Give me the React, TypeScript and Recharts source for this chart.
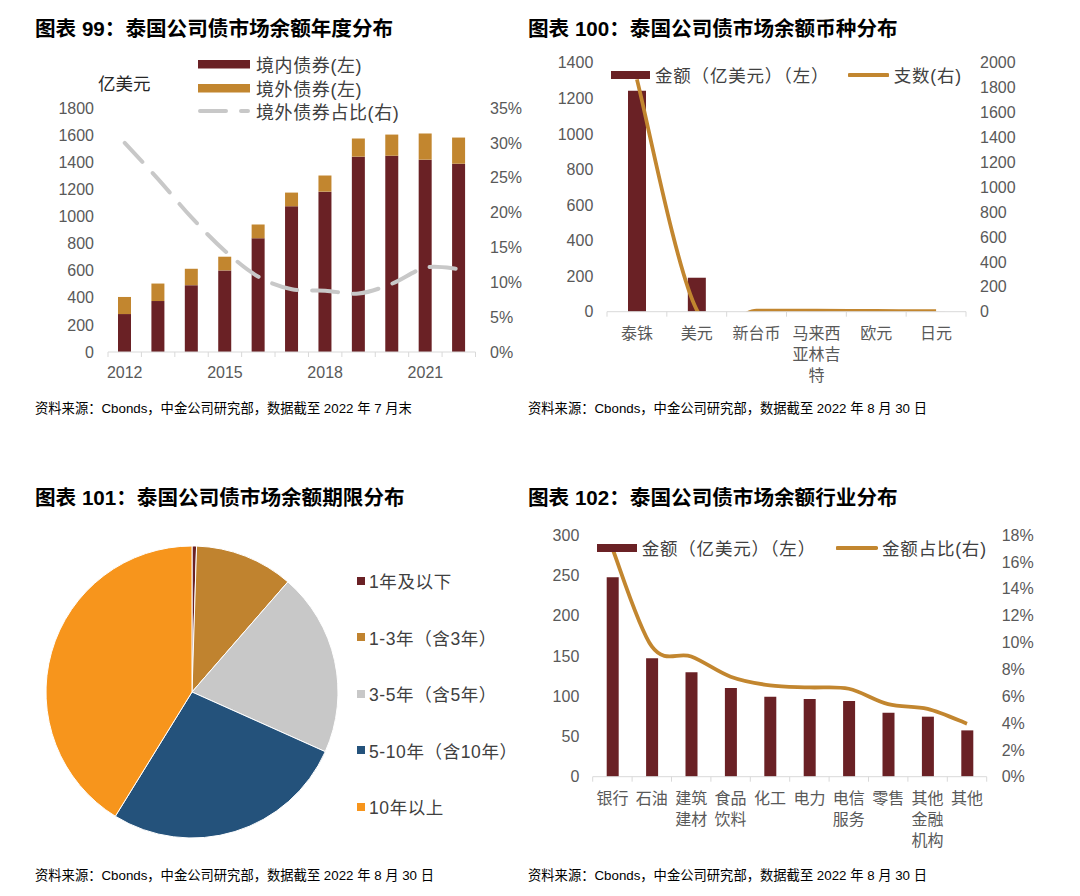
import React from 'react';
import { ComposedChart, Bar, Line, XAxis, YAxis, Legend, PieChart, Pie, Cell } from 'recharts';

const FONT = '"Liberation Sans", Arial, "Noto Sans CJK SC", sans-serif';
const TICK_COLOR = '#595959';
const TEXT_COLOR = '#404040';
const AXIS_COLOR = '#d9d9d9';
const MAROON = '#6a2125';
const BRONZE = '#c2862f';
const DASH_GREY = '#c8c8c8';

// 图表 99：年度分布（亿美元 / %）
const years = ['2012', '2013', '2014', '2015', '2016', '2017', '2018', '2019', '2020', '2021', '2022'];
const domesticBonds = [280, 376, 493, 602, 839, 1075, 1183, 1441, 1448, 1419, 1389];
const offshoreBonds = [126, 129, 121, 101, 102, 101, 119, 134, 156, 193, 193];
const offshoreShare = [30.0, 24.8, 19.3, 14.5, 10.8, 9.0, 8.8, 8.4, 9.8, 12.1, 11.9];
const amountTicks99 = [0, 200, 400, 600, 800, 1000, 1200, 1400, 1600, 1800];
const shareTicks99 = [0, 5, 10, 15, 20, 25, 30, 35];
const seriesNames99 = ['境内债券(左)', '境外债券(左)', '境外债券占比(右)'];

// 图表 100：币种分布
const currencies = ['泰铢', '美元', '新台币', '马来西亚林吉特', '欧元', '日元'];
const currencyAmount = [1242, 191, 1, 1, 0.5, 0.3];
const currencyCount = [1866, 15, 8, 8, 6, 4];
const amountTicks100 = [0, 200, 400, 600, 800, 1000, 1200, 1400];
const countTicks100 = [0, 200, 400, 600, 800, 1000, 1200, 1400, 1600, 1800, 2000];
const seriesNames100 = ['金额（亿美元）（左）', '支数(右)'];

// 图表 101：期限分布（%）
const maturityBuckets = ['1年及以下', '1-3年（含3年）', '3-5年（含5年）', '5-10年（含10年）', '10年以上'];
const maturityShare = [0.5, 10.9, 20.3, 27.1, 41.2];
const maturityColors = ['#6a2125', '#c0832f', '#c8c8c8', '#24527b', '#f7951c'];

// 图表 102：行业分布
const industries = ['银行', '石油', '建筑建材', '食品饮料', '化工', '电力', '电信服务', '零售', '其他金融机构', '其他'];
const industryAmount = [247.5, 146.9, 129.5, 110, 99.3, 96.4, 93.9, 79.4, 74.5, 57.5];
const industryShare = [17.0, 9.7, 8.95, 7.45, 6.8, 6.65, 6.55, 5.4, 5.05, 3.95];
const amountTicks102 = [0, 50, 100, 150, 200, 250, 300];
const shareTicks102 = [0, 2, 4, 6, 8, 10, 12, 14, 16, 18];
const seriesNames102 = ['金额（亿美元）（左）', '金额占比(右)'];

const yearData = years.map((year, i) => ({
  year,
  domestic: domesticBonds[i],
  offshore: offshoreBonds[i],
  share: offshoreShare[i],
}));
const currencyData = currencies.map((name, i) => ({ name, amount: currencyAmount[i], count: currencyCount[i] }));
const maturityData = maturityBuckets.map((name, i) => ({ name, value: maturityShare[i] }));
const industryData = industries.map((name, i) => ({ name, amount: industryAmount[i], share: industryShare[i] }));

// Smooth curve through every point (Catmull-Rom style Bezier control points)
function smoothCurve(context: any) {
  let xs: number[] = [];
  let ys: number[] = [];
  const k = 1 / 6;
  return {
    areaStart() {},
    areaEnd() {},
    lineStart() {
      xs = [];
      ys = [];
    },
    point(x: number, y: number) {
      xs.push(+x);
      ys.push(+y);
    },
    lineEnd() {
      const n = xs.length;
      if (n === 0) return;
      context.moveTo(xs[0], ys[0]);
      for (let i = 0; i < n - 1; i++) {
        const a = Math.max(i - 1, 0);
        const d = Math.min(i + 2, n - 1);
        context.bezierCurveTo(
          xs[i] + k * (xs[i + 1] - xs[a]),
          ys[i] + k * (ys[i + 1] - ys[a]),
          xs[i + 1] - k * (xs[d] - xs[i]),
          ys[i + 1] - k * (ys[d] - ys[i]),
          xs[i + 1],
          ys[i + 1],
        );
      }
    },
  };
}

const wrapLabel = (s: string, n?: number) => {
  if (!n) return [s];
  const out: string[] = [];
  for (let i = 0; i < s.length; i += n) out.push(s.slice(i, i + n));
  return out;
};

// Category tick: short marks on category boundaries, label optionally wrapped
function makeBandTick(opts: { gap: number; count: number; wrap?: number; every?: number }) {
  return (props: any) => {
    const { x = 0, y = 0, payload, index = 0 } = props;
    const half = payload?.offset ?? 0;
    const axisY = y - opts.gap;
    const lines = wrapLabel(String(payload?.value ?? ''), opts.wrap);
    const show = index % (opts.every ?? 1) === 0;
    return (
      <g>
        <line x1={x - half} x2={x - half} y1={axisY} y2={axisY + 5} stroke={AXIS_COLOR} strokeWidth={1} />
        {index === opts.count - 1 && (
          <line x1={x + half} x2={x + half} y1={axisY} y2={axisY + 5} stroke={AXIS_COLOR} strokeWidth={1} />
        )}
        {show && (
          <text x={x} y={y} textAnchor="middle" fill={TICK_COLOR} fontSize={16} fontFamily={FONT}>
            {lines.map((t, i) => (
              <tspan key={i} x={x} dy={i === 0 ? '0.71em' : 21}>
                {t}
              </tspan>
            ))}
          </text>
        )}
      </g>
    );
  };
}

const order = (payload: any[] | undefined, names: string[]) =>
  names.map((n) => (payload || []).find((p: any) => p.value === n)).filter(Boolean) as any[];

const yTick = { fill: TICK_COLOR, fontSize: 16, fontFamily: FONT };

function Text({ x, y, size, bold, color, spacing, children }: any) {
  return (
    <div
      style={{
        position: 'absolute',
        left: x,
        top: y,
        fontSize: size,
        lineHeight: `${size}px`,
        fontWeight: bold ? 700 : 400,
        color: color ?? '#000',
        letterSpacing: spacing ?? 0,
        whiteSpace: 'nowrap',
        fontFamily: FONT,
      }}
    >
      {children}
    </div>
  );
}

const Legend99 = ({ payload }: any) => (
  <div style={{ fontFamily: FONT, fontSize: 18, letterSpacing: 0.6, color: TEXT_COLOR }}>
    {order(payload, seriesNames99).map((e) => (
      <div key={e.value} style={{ display: 'flex', alignItems: 'center', height: 23.7, whiteSpace: 'nowrap' }}>
        <svg width={52} height={10} style={{ marginRight: 6, display: 'block' }}>
          {e.type === 'line' ? (
            <line x1={2} x2={50} y1={5} y2={5} stroke={e.color} strokeWidth={4} strokeDasharray="26 15" strokeLinecap="round" />
          ) : (
            <rect x={0} y={1} width={52} height={8.5} fill={e.color} />
          )}
        </svg>
        <span>{e.value}</span>
      </div>
    ))}
  </div>
);

const makeRowLegend = (names: string[], rectW: number, lineW: number, spacing: number) => ({ payload }: any) => (
  <div style={{ display: 'flex', alignItems: 'center', fontFamily: FONT, fontSize: 17.5, letterSpacing: 0.8, color: TEXT_COLOR, whiteSpace: 'nowrap', height: 21 }}>
    {order(payload, names).map((e, i) => (
      <div key={e.value} style={{ display: 'flex', alignItems: 'center', marginLeft: i === 0 ? 0 : spacing }}>
        {e.type === 'line' ? (
          <svg width={lineW} height={8} style={{ marginRight: 4.5, display: 'block' }}>
            <line x1={1.5} x2={lineW - 1.5} y1={4} y2={4} stroke={e.color} strokeWidth={4} strokeLinecap="round" />
          </svg>
        ) : (
          <svg width={rectW} height={8} style={{ marginRight: 5, display: 'block' }}>
            <rect x={0} y={0} width={rectW} height={8} fill={e.color} />
          </svg>
        )}
        <span>{e.value}</span>
      </div>
    ))}
  </div>
);

const Legend100 = makeRowLegend(seriesNames100, 39, 41, 19);
const Legend102 = makeRowLegend(seriesNames102, 40, 41.6, 20);

const Legend101 = ({ payload }: any) => (
  <div style={{ fontFamily: FONT, fontSize: 17.5, letterSpacing: 0.6, color: TEXT_COLOR }}>
    {order(payload, maturityBuckets).map((e, i) => (
      <div key={e.value} style={{ display: 'flex', alignItems: 'center', height: 24, marginTop: i === 0 ? 0 : 32.5, whiteSpace: 'nowrap' }}>
        <span style={{ width: 8, height: 8, background: maturityColors[maturityBuckets.indexOf(e.value)], marginRight: 4, display: 'inline-block' }} />
        <span>{e.value}</span>
      </div>
    ))}
  </div>
);

export default function App() {
  return (
    <div style={{ position: 'absolute', left: 0, top: 0, width: 1080, height: 896, background: '#fff', overflow: 'hidden', fontFamily: FONT }}>
      <Text x={35} y={19} size={20.6} bold>图表 99：泰国公司债市场余额年度分布</Text>
      <Text x={528} y={19} size={20.6} bold>图表 100：泰国公司债市场余额币种分布</Text>
      <Text x={35} y={488} size={20.6} bold>图表 101：泰国公司债市场余额期限分布</Text>
      <Text x={528} y={488} size={20.6} bold>图表 102：泰国公司债市场余额行业分布</Text>

      <Text x={35} y={402} size={13.3}>资料来源：Cbonds，中金公司研究部，数据截至 2022 年 7 月末</Text>
      <Text x={528} y={402} size={13.3}>资料来源：Cbonds，中金公司研究部，数据截至 2022 年 8 月 30 日</Text>
      <Text x={35} y={869} size={13.3}>资料来源：Cbonds，中金公司研究部，数据截至 2022 年 8 月 30 日</Text>
      <Text x={528} y={869} size={13.3}>资料来源：Cbonds，中金公司研究部，数据截至 2022 年 8 月 30 日</Text>

      <Text x={98} y={76} size={17.5} color="#262626">亿美元</Text>

      {/* 图表 99 */}
      <div style={{ position: 'absolute', left: 0, top: 0 }}>
        <ComposedChart width={540} height={400} data={yearData} margin={{ top: 108, right: 14.5, bottom: 18, left: 48 }}>
          <XAxis
            dataKey="year"
            interval={0}
            height={30}
            tickSize={0}
            tickMargin={14.4}
            tickLine={false}
            axisLine={{ stroke: AXIS_COLOR }}
            tick={makeBandTick({ gap: 14.4, count: years.length, every: 3 })}
          />
          <YAxis yAxisId="left" width={60} domain={[0, 1800]} ticks={amountTicks99} interval={0} tickSize={0} tickMargin={14} axisLine={false} tickLine={false} tick={yTick} />
          <YAxis yAxisId="right" orientation="right" width={50} domain={[0, 35]} ticks={shareTicks99} interval={0} tickSize={0} tickMargin={14.5} axisLine={false} tickLine={false} tick={yTick} tickFormatter={(v: number) => `${v}%`} />
          <Legend layout="horizontal" verticalAlign="middle" align="center" wrapperStyle={{ left: 198, top: 52, width: 'auto' }} content={<Legend99 />} />
          <Bar yAxisId="left" dataKey="domestic" name={seriesNames99[0]} stackId="a" fill={MAROON} barSize={13} isAnimationActive={false} />
          <Bar yAxisId="left" dataKey="offshore" name={seriesNames99[1]} stackId="a" fill={BRONZE} barSize={13} isAnimationActive={false} />
          <Line yAxisId="right" dataKey="share" name={seriesNames99[2]} type={smoothCurve as any} stroke={DASH_GREY} strokeWidth={4} strokeDasharray="26 15" strokeLinecap="round" dot={false} activeDot={false} isAnimationActive={false} />
        </ComposedChart>
      </div>

      {/* 图表 100 */}
      <div style={{ position: 'absolute', left: 540, top: 40 }}>
        <ComposedChart width={480} height={350} data={currencyData} margin={{ top: 22.7, right: 4, bottom: 12.3, left: 7 }}>
          <XAxis
            dataKey="name"
            interval={0}
            height={66}
            tickSize={0}
            tickMargin={16.3}
            tickLine={false}
            axisLine={{ stroke: AXIS_COLOR }}
            tick={makeBandTick({ gap: 16.3, count: currencies.length, wrap: 3 })}
          />
          <YAxis yAxisId="left" width={60} domain={[0, 1400]} ticks={amountTicks100} interval={0} tickSize={0} tickMargin={13.7} axisLine={false} tickLine={false} tick={yTick} />
          <YAxis yAxisId="right" orientation="right" width={50} domain={[0, 2000]} allowDataOverflow ticks={countTicks100} interval={0} tickSize={0} tickMargin={14} axisLine={false} tickLine={false} tick={yTick} />
          <Legend layout="horizontal" verticalAlign="middle" align="center" wrapperStyle={{ left: 71, top: 24, width: 'auto' }} content={<Legend100 />} />
          <Bar yAxisId="left" dataKey="amount" name={seriesNames100[0]} fill={MAROON} barSize={18} isAnimationActive={false} />
          <Line yAxisId="right" dataKey="count" name={seriesNames100[1]} type={smoothCurve as any} stroke={BRONZE} strokeWidth={3.8} dot={false} activeDot={false} isAnimationActive={false} />
        </ComposedChart>
      </div>

      {/* 图表 101 */}
      <div style={{ position: 'absolute', left: 0, top: 480 }}>
        <PieChart width={540} height={380} margin={{ top: 0, right: 0, bottom: 0, left: 0 }}>
          <Legend layout="horizontal" verticalAlign="middle" align="center" wrapperStyle={{ left: 357, top: 88.7, width: 'auto' }} content={<Legend101 />} />
          <Pie
            data={maturityData}
            dataKey="value"
            nameKey="name"
            cx={192}
            cy={212}
            outerRadius={146}
            startAngle={90}
            endAngle={-270}
            stroke="#ffffff"
            strokeWidth={1}
            isAnimationActive={false}
          >
            {maturityData.map((d, i) => (
              <Cell key={d.name} fill={maturityColors[i]} />
            ))}
          </Pie>
        </PieChart>
      </div>

      {/* 图表 102 */}
      <div style={{ position: 'absolute', left: 540, top: 510 }}>
        <ComposedChart width={500} height={360} data={industryData} margin={{ top: 25, right: 8.3, bottom: 13.3, left: 7.7 }}>
          <XAxis
            dataKey="name"
            interval={0}
            height={80}
            tickSize={0}
            tickMargin={16.3}
            tickLine={false}
            axisLine={{ stroke: AXIS_COLOR }}
            tick={makeBandTick({ gap: 16.3, count: industries.length, wrap: 2 })}
          />
          <YAxis yAxisId="left" width={45} domain={[0, 300]} ticks={amountTicks102} interval={0} tickSize={0} tickMargin={13.4} axisLine={false} tickLine={false} tick={yTick} />
          <YAxis yAxisId="right" orientation="right" width={45} domain={[0, 18]} ticks={shareTicks102} interval={0} tickSize={0} tickMargin={15} axisLine={false} tickLine={false} tick={yTick} tickFormatter={(v: number) => `${v}%`} />
          <Legend layout="horizontal" verticalAlign="middle" align="center" wrapperStyle={{ left: 56.7, top: 27, width: 'auto' }} content={<Legend102 />} />
          <Bar yAxisId="left" dataKey="amount" name={seriesNames102[0]} fill={MAROON} barSize={12} isAnimationActive={false} />
          <Line yAxisId="right" dataKey="share" name={seriesNames102[1]} type={smoothCurve as any} stroke={BRONZE} strokeWidth={3.8} dot={false} activeDot={false} isAnimationActive={false} />
        </ComposedChart>
      </div>
    </div>
  );
}
